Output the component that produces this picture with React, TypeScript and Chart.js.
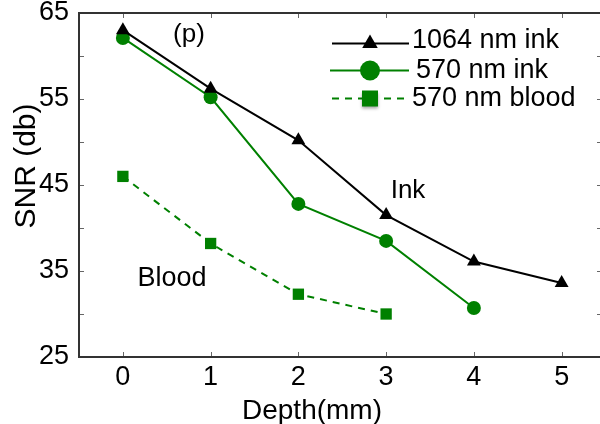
import React, { useEffect, useRef } from "react";
import { Chart, registerables } from "chart.js";

Chart.register(...registerables);

// ---- data ----
const depths = [0, 1, 2, 3, 4, 5];
const ink1064 = [63.0, 56.2, 50.2, 41.5, 36.1, 33.6];
const ink570 = [62.1, 55.2, 42.8, 38.5, 30.7];
const blood570 = [46.0, 38.2, 32.3, 30.0];
const xTicks = [0, 1, 2, 3, 4, 5];
const yTicks = [25, 35, 45, 55, 65];
const yMinorTicks = [30, 40, 50, 60];
const seriesLabels = ["1064 nm ink", "570 nm ink", "570 nm blood"];
const xTitle = "Depth(mm)";
const yTitle = "SNR (db)";
const panelLabel = "(p)";
const inkLabel = "Ink";
const bloodLabel = "Blood";

const FONT = '"Liberation Sans", Arial, Helvetica, sans-serif';
const GREEN = "#008000";
const BLACK = "#000000";

const pts = (ys: number[]) => ys.map((y, i) => ({ x: depths[i], y }));

const decorPlugin = {
  id: "decor",
  beforeDatasetsDraw(chart: any) {
    const { ctx, chartArea } = chart;
    const { left, right, top, bottom } = chartArea;
    const xs = chart.scales.x;
    const ys = chart.scales.y;
    ctx.save();
    // inward tick marks
    ctx.strokeStyle = "#666";
    ctx.lineWidth = 1;
    const tl = 5;
    ctx.beginPath();
    xTicks.forEach((v) => {
      const px = Math.round(xs.getPixelForValue(v)) + 0.5;
      ctx.moveTo(px, bottom);
      ctx.lineTo(px, bottom - tl);
      ctx.moveTo(px, top);
      ctx.lineTo(px, top + tl);
    });
    [...yTicks, ...yMinorTicks].forEach((v) => {
      const py = Math.round(ys.getPixelForValue(v)) + 0.5;
      ctx.moveTo(left, py);
      ctx.lineTo(left + tl, py);
      ctx.moveTo(right, py);
      ctx.lineTo(right - tl, py);
    });
    ctx.stroke();
    // frame
    ctx.strokeStyle = "#333";
    ctx.lineWidth = 2;
    ctx.strokeRect(left, top, right - left, bottom - top);
    ctx.restore();
  },
  afterDraw(chart: any) {
    const { ctx } = chart;
    ctx.save();
    ctx.fillStyle = "#000";
    ctx.font = `26px ${FONT}`;
    ctx.textBaseline = "alphabetic";
    ctx.textAlign = "center";
    // annotations
    ctx.fillText(panelLabel, 189, 42);
    ctx.fillText(inkLabel, 408, 198);
    ctx.font = `27px ${FONT}`;
    ctx.fillText(bloodLabel, 172, 286);
    // axis titles
    ctx.font = `28px ${FONT}`;
    ctx.fillText(xTitle, 312, 419);
    ctx.save();
    ctx.translate(35, 166);
    ctx.rotate(-Math.PI / 2);
    ctx.font = `30px ${FONT}`;
    ctx.fillText(yTitle, 0, 0);
    ctx.restore();

    // legend
    const rows = [43.5, 70.5, 98.5];
    const lineX0 = 332;
    const lineX1 = 409;
    const mx = 370;
    // row 1: black line + triangle
    ctx.strokeStyle = BLACK;
    ctx.lineWidth = 2;
    ctx.setLineDash([]);
    ctx.beginPath();
    ctx.moveTo(lineX0, rows[0]);
    ctx.lineTo(lineX1, rows[0]);
    ctx.stroke();
    ctx.fillStyle = BLACK;
    const r = 9;
    ctx.beginPath();
    ctx.moveTo(mx, rows[0] - r);
    ctx.lineTo(mx + r * 0.866, rows[0] + r * 0.5);
    ctx.lineTo(mx - r * 0.866, rows[0] + r * 0.5);
    ctx.closePath();
    ctx.fill();
    // row 2: green line + circle
    ctx.strokeStyle = GREEN;
    ctx.beginPath();
    ctx.moveTo(lineX0 - 2, rows[1]);
    ctx.lineTo(lineX1, rows[1]);
    ctx.stroke();
    ctx.fillStyle = GREEN;
    ctx.beginPath();
    ctx.arc(mx, rows[1], 10, 0, Math.PI * 2);
    ctx.fill();
    // row 3: dashed green + square
    ctx.setLineDash([7, 6]);
    ctx.beginPath();
    ctx.moveTo(lineX0, rows[2]);
    ctx.lineTo(lineX1, rows[2]);
    ctx.stroke();
    ctx.setLineDash([]);
    ctx.save();
    ctx.shadowColor = "rgba(0,0,0,0.35)";
    ctx.shadowBlur = 3;
    ctx.shadowOffsetY = 2;
    ctx.fillRect(mx - 8, rows[2] - 8, 16, 16);
    ctx.restore();
    // legend text
    ctx.fillStyle = "#000";
    ctx.textAlign = "left";
    ctx.font = `27px ${FONT}`;
    ctx.fillText(seriesLabels[0], 412, 48);
    ctx.fillText(seriesLabels[1], 416, 78);
    ctx.fillText(seriesLabels[2], 412, 106);
    ctx.restore();
  },
};

export default function App() {
  const canvasRef = useRef<HTMLCanvasElement | null>(null);

  useEffect(() => {
    const canvas = canvasRef.current;
    if (!canvas) return;
    const chart = new Chart(canvas, {
      type: "line",
      data: {
        datasets: [
          {
            label: seriesLabels[0],
            data: pts(ink1064),
            borderColor: BLACK,
            backgroundColor: BLACK,
            borderWidth: 2,
            pointStyle: "triangle",
            pointRadius: 8,
            pointBorderWidth: 0,
            pointBackgroundColor: BLACK,
            tension: 0,
          },
          {
            label: seriesLabels[1],
            data: pts(ink570),
            borderColor: GREEN,
            backgroundColor: GREEN,
            borderWidth: 2,
            pointStyle: "circle",
            pointRadius: 7,
            pointBorderWidth: 0,
            pointBackgroundColor: GREEN,
            tension: 0,
          },
          {
            label: seriesLabels[2],
            data: pts(blood570),
            borderColor: GREEN,
            backgroundColor: GREEN,
            borderWidth: 2,
            borderDash: [7, 6],
            pointStyle: "rect",
            pointRadius: 8,
            pointBorderWidth: 0,
            pointBackgroundColor: GREEN,
            tension: 0,
          },
        ],
      },
      options: {
        animation: false,
        responsive: false,
        devicePixelRatio: 1,
        layout: { padding: { top: 13, right: 10, left: 0, bottom: 0 } },
        plugins: {
          legend: { display: false },
          tooltip: { enabled: false },
        },
        scales: {
          x: {
            type: "linear",
            min: -0.5,
            max: 5.46,
            grid: { display: false, drawTicks: false },
            border: { display: false },
            afterBuildTicks: (s: any) => {
              s.ticks = xTicks.map((v) => ({ value: v }));
            },
            afterFit: (s: any) => {
              s.height = 67;
              s.paddingLeft = 0;
              s.paddingRight = 0;
            },
            ticks: {
              padding: 4,
              color: "#000",
              font: { family: FONT, size: 27 },
              maxRotation: 0,
              autoSkip: false,
              callback: (v: any) => String(v),
            },
          },
          y: {
            type: "linear",
            min: 25,
            max: 65,
            grid: { display: false, drawTicks: false },
            border: { display: false },
            afterBuildTicks: (s: any) => {
              s.ticks = yTicks.map((v) => ({ value: v }));
            },
            afterFit: (s: any) => {
              s.width = 79;
              s.paddingTop = 0;
              s.paddingBottom = 0;
            },
            ticks: {
              padding: 10,
              color: "#000",
              font: { family: FONT, size: 27 },
              autoSkip: false,
              callback: (v: any) => String(v),
            },
          },
        },
      },
      plugins: [decorPlugin],
    });
    return () => chart.destroy();
  }, []);

  return (
    <div
      style={{
        position: "fixed",
        left: 0,
        top: 0,
        width: 600,
        height: 424,
        overflow: "hidden",
        background: "#fff",
      }}
    >
      <canvas
        ref={canvasRef}
        width={612}
        height={424}
        style={{ width: 612, height: 424, display: "block" }}
      />
    </div>
  );
}
